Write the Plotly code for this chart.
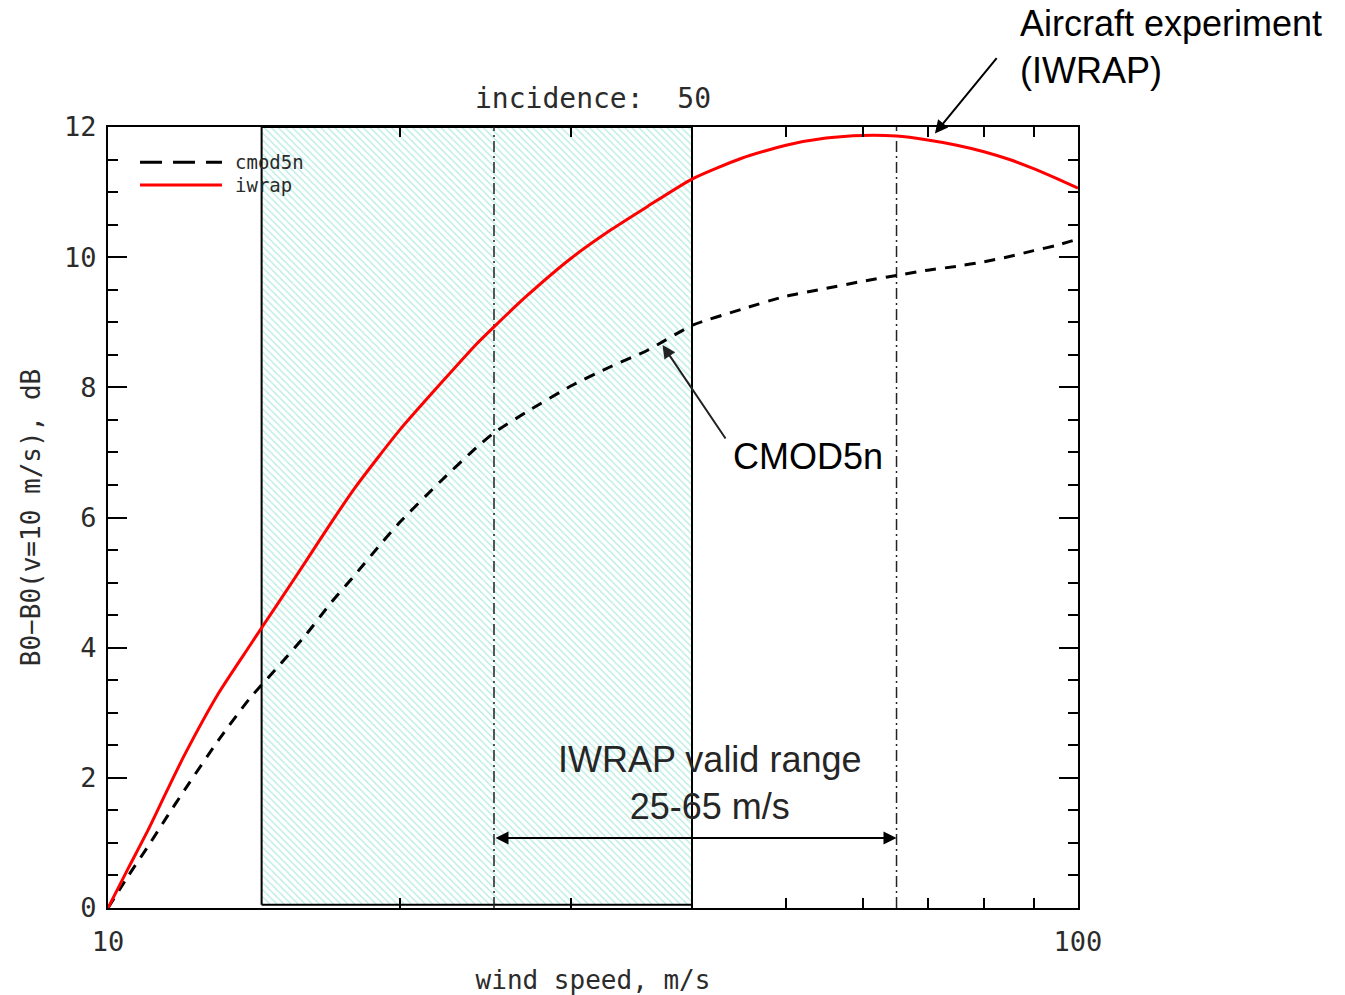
import numpy as np
import plotly.graph_objects as go

# Wind speed samples (m/s)
wind_speed = [10, 10.5, 11, 11.5, 12, 13, 14, 15, 16, 17, 18, 19, 20, 22, 24, 25,
              27, 30, 33, 36, 40, 45, 50, 55, 60, 65, 70, 75, 80, 85, 90, 95, 100]

# B0 - B0(v=10 m/s), dB
iwrap = [0.0, 0.62, 1.2, 1.8, 2.36, 3.3, 4.03, 4.7, 5.33, 5.93, 6.47, 6.93, 7.35,
         8.05, 8.67, 8.93, 9.4, 9.98, 10.42, 10.78, 11.2, 11.52, 11.72, 11.83,
         11.87, 11.86, 11.8, 11.72, 11.62, 11.5, 11.36, 11.21, 11.06]
cmod5n = [0.0, 0.5, 0.95, 1.4, 1.82, 2.58, 3.22, 3.72, 4.2, 4.7, 5.13, 5.55, 5.93,
          6.55, 7.08, 7.3, 7.62, 8.02, 8.32, 8.57, 8.95, 9.2, 9.4, 9.52, 9.63,
          9.72, 9.8, 9.86, 9.93, 10.01, 10.1, 10.18, 10.28]

# Shaded wind-speed band and IWRAP valid range (m/s)
shaded_band = [14.4, 40]
valid_range = [25, 65]

y_range = [0, 12]
y_ticks = [0, 2, 4, 6, 8, 10, 12]
x_ticks = [10, 100]
x_minor = [20, 30, 40, 50, 60, 70, 80, 90]

HERSHEY = "DejaVu Sans Mono"
SANS = "Liberation Sans, Arial, sans-serif"
INK = "#2b2b2b"

fig = go.Figure()

# hatched band
fig.add_trace(go.Scatter(
    x=[shaded_band[0], shaded_band[1], shaded_band[1], shaded_band[0], shaded_band[0]],
    y=[0.05, 0.05, 12, 12, 0.05],
    mode="lines", fill="toself",
    line=dict(color="black", width=2),
    fillcolor="rgba(0,0,0,0)",
    fillpattern=dict(shape="\\", fgcolor="#6fd9c4", bgcolor="white",
                     size=5, solidity=0.28),
    hoverinfo="skip", showlegend=False,
))

# valid-range markers
for v in valid_range:
    fig.add_trace(go.Scatter(
        x=[v, v], y=y_range, mode="lines",
        line=dict(color="#222222", width=1.5, dash="11px,4px,2px,4px"),
        hoverinfo="skip", showlegend=False,
    ))

fig.add_trace(go.Scatter(
    x=wind_speed, y=cmod5n, mode="lines", name="cmod5n",
    line=dict(color="black", width=3, dash="11px,9px", shape="spline", smoothing=0.6),
    showlegend=False,
))
fig.add_trace(go.Scatter(
    x=wind_speed, y=iwrap, mode="lines", name="iwrap",
    line=dict(color="#ff0000", width=3, shape="spline", smoothing=0.6),
    showlegend=False,
))

axis_common = dict(
    showline=True, linecolor="black", linewidth=2, mirror="ticks",
    ticks="inside", tickcolor="black", tickwidth=2,
    showgrid=False, zeroline=False, automargin=False,
    tickfont=dict(family=HERSHEY, size=27, color=INK),
    title_font=dict(family=HERSHEY, size=26, color=INK),
)

fig.update_xaxes(
    type="log", range=[1, 2], tickvals=x_ticks, ticktext=[str(t) for t in x_ticks],
    ticklen=19,
    minor=dict(tickvals=x_minor, ticks="inside", ticklen=10, tickwidth=2,
               tickcolor="black", showgrid=False),
    ticklabelstandoff=9,
    title=dict(text="wind speed, m/s", standoff=15),
    **axis_common,
)
fig.update_yaxes(
    range=y_range, tickvals=y_ticks, ticklen=19,
    minor=dict(dtick=0.5, ticks="inside", ticklen=10, tickwidth=2,
               tickcolor="black", showgrid=False),
    ticklabelstandoff=4,
    title=dict(text="B0\u2212B0(v=10 m/s), dB", standoff=16),
    **axis_common,
)

# legend drawn inside the frame
legend_rows = [("cmod5n", dict(color="black", width=3, dash="22px,11px"), 0.955),
               ("iwrap", dict(color="#ff0000", width=3), 0.9257)]
for label, style, yp in legend_rows:
    fig.add_shape(type="line", xref="paper", yref="paper",
                  x0=0.033, x1=0.1175, y0=yp, y1=yp, line=style)
    fig.add_annotation(xref="paper", yref="paper", x=0.1289, y=yp,
                       xanchor="left", yanchor="middle", showarrow=False,
                       text=label, font=dict(family=HERSHEY, size=19, color=INK))

# callouts
fig.add_annotation(
    xref="paper", yref="paper", x=0.938, y=1.1025, xanchor="left", yanchor="middle",
    align="left", showarrow=False, text="Aircraft experiment<br>(IWRAP)",
    font=dict(family=SANS, size=36, color="black"),
)
fig.add_annotation(
    x=np.log10(71.2), y=11.9, ax=63, ay=-77, showarrow=True,
    arrowhead=2, arrowsize=1.3, arrowwidth=2, arrowcolor="black", text="",
)
fig.add_annotation(
    x=np.log10(43.9), y=6.93, xanchor="left", yanchor="middle", showarrow=False,
    text="CMOD5n", font=dict(family=SANS, size=36, color="black"),
)
fig.add_annotation(
    x=np.log10(37.3), y=8.65, ax=64, ay=95, showarrow=True,
    arrowhead=2, arrowsize=1.3, arrowwidth=2, arrowcolor="#222222", text="",
)
fig.add_annotation(
    xref="paper", x=0.6196, y=1.92, xanchor="center", yanchor="middle",
    showarrow=False, text="IWRAP valid range<br>25-65 m/s",
    font=dict(family=SANS, size=36, color="#262626"),
)
fig.add_annotation(
    x=np.log10(valid_range[1]), y=1.075,
    ax=np.log10(valid_range[0]), ay=1.075, axref="x", ayref="y",
    showarrow=True, arrowhead=2, startarrowhead=2, arrowside="end+start",
    arrowsize=1.3, startarrowsize=1.3, arrowwidth=2, arrowcolor="black", text="",
)

fig.update_layout(
    width=1345, height=995,
    margin=dict(l=108, r=267, t=127, b=87),
    paper_bgcolor="white", plot_bgcolor="white",
    title=dict(text="incidence:  50", x=0.5, xref="paper", xanchor="center",
               y=1 - 98 / 995, yref="container", yanchor="middle",
               font=dict(family=HERSHEY, size=28, color=INK)),
    showlegend=False,
)

fig.write_html("out.html")
